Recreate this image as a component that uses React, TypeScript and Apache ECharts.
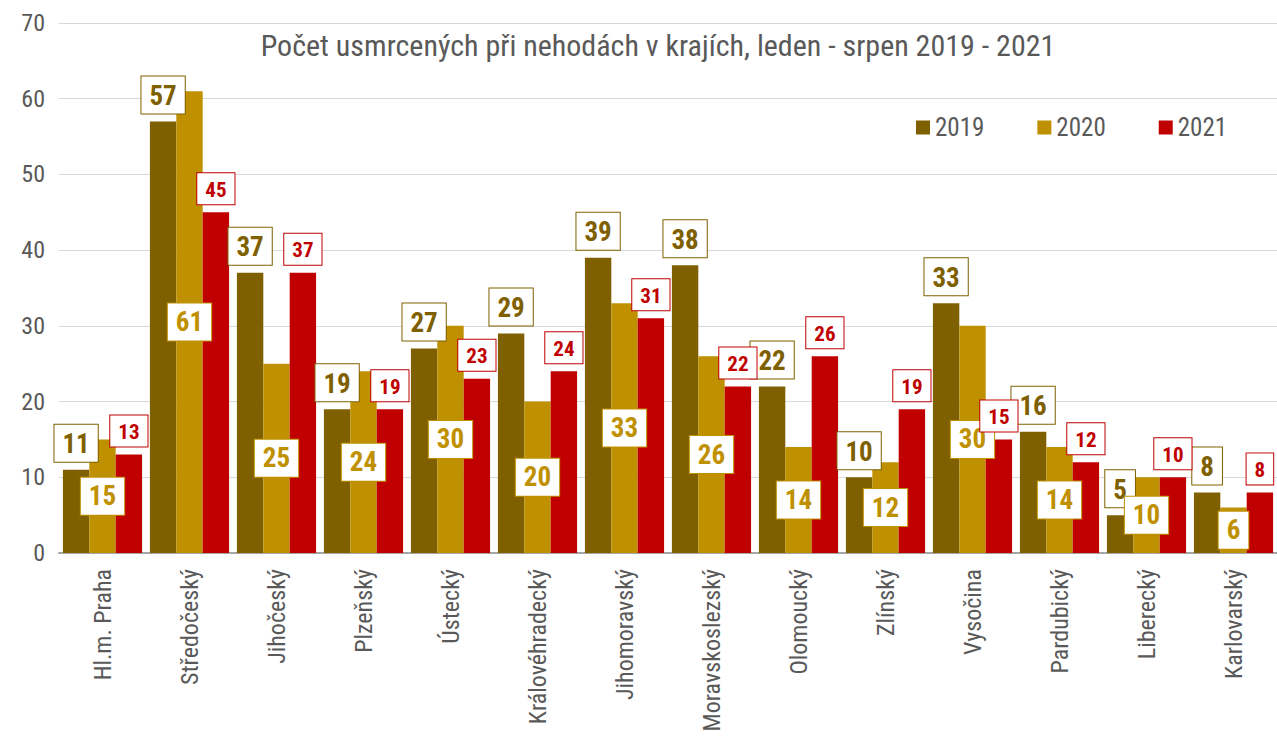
import React, { useEffect, useRef } from "react";
import * as echarts from "echarts";

const categories = [
  "Hl.m. Praha",
  "Středočeský",
  "Jihočeský",
  "Plzeňský",
  "Ústecký",
  "Královéhradecký",
  "Jihomoravský",
  "Moravskoslezský",
  "Olomoucký",
  "Zlínský",
  "Vysočina",
  "Pardubický",
  "Liberecký",
  "Karlovarský",
];
const values2019 = [11, 57, 37, 19, 27, 29, 39, 38, 22, 10, 33, 16, 5, 8];
const values2020 = [15, 61, 25, 24, 30, 20, 33, 26, 14, 12, 30, 14, 10, 6];
const values2021 = [13, 45, 37, 19, 23, 24, 31, 22, 26, 19, 15, 12, 10, 8];
const yTicks = [0, 10, 20, 30, 40, 50, 60, 70];

const FONT = "'Liberation Sans Narrow', 'Arial Narrow', 'Roboto Condensed', Roboto, sans-serif";
const C19 = "#7F6000";
const C20 = "#BF9000";
const C21 = "#C00000";

export default function App() {
  const ref = useRef<HTMLDivElement>(null);
  useEffect(() => {
    if (!ref.current) return;
    const chart = echarts.init(ref.current, undefined, { renderer: "svg" });
    const boxLabel = (color: string, size: number, pos: string, pad: number[]) => ({
      show: true,
      position: pos,
      distance: 8,
      color,
      fontFamily: FONT,
      fontWeight: "bold",
      fontSize: size,
      backgroundColor: "#fff",
      borderColor: color,
      borderWidth: 1,
      padding: pad,
    });
    chart.setOption({
      animation: false,
      textStyle: { fontFamily: FONT },
      title: {
        text: "Počet usmrcených při nehodách v krajích, leden - srpen 2019 - 2021",
        left: 653,
        textAlign: "center",
        top: 25,
        textStyle: { fontFamily: FONT, fontSize: 30, fontWeight: "normal", color: "#595959" },
      },
      legend: {
        left: 911,
        top: 110,
        itemWidth: 14,
        itemHeight: 14,
        itemGap: 53,
        icon: "rect",
        textStyle: { fontFamily: FONT, fontSize: 25, color: "#595959" },
        data: ["2019", "2020", "2021"],
      },
      grid: { left: 59, right: 0, top: 23, bottom: 189, containLabel: false },
      xAxis: {
        type: "category",
        data: categories,
        axisLine: { lineStyle: { color: "#A6A6A6", width: 2 } },
        axisTick: { show: false },
        axisLabel: {
          rotate: 90,
          interval: 0,
          margin: 16,
          fontFamily: FONT,
          fontSize: 24,
          color: "#595959",
        },
      },
      yAxis: {
        type: "value",
        min: yTicks[0],
        max: yTicks[yTicks.length - 1],
        interval: 10,
        axisLine: { show: false },
        axisTick: { show: false },
        splitLine: { lineStyle: { color: "#D9D9D9", width: 1 } },
        axisLabel: { fontFamily: FONT, fontSize: 24, color: "#595959", margin: 14 },
      },
      series: [
        {
          name: "2019",
          type: "bar",
          data: values2019,
          itemStyle: { color: C19 },
          barGap: "0%",
          barCategoryGap: "9%",
          label: boxLabel(C19, 27, "top", [6, 8, 4, 8]),
        },
        {
          name: "2020",
          type: "bar",
          data: values2020,
          itemStyle: { color: C20 },
          barGap: "0%",
          barCategoryGap: "9%",
          label: boxLabel(C20, 27, "inside", [6, 8, 4, 8]),
        },
        {
          name: "2021",
          type: "bar",
          data: values2021,
          itemStyle: { color: C21 },
          barGap: "0%",
          barCategoryGap: "9%",
          label: boxLabel(C21, 21, "top", [6, 8, 4, 8]),
        },
      ],
    });
    return () => chart.dispose();
  }, []);
  return <div ref={ref} style={{ width: 1277, height: 742, position: "absolute", left: 0, top: 0 }} />;
}
